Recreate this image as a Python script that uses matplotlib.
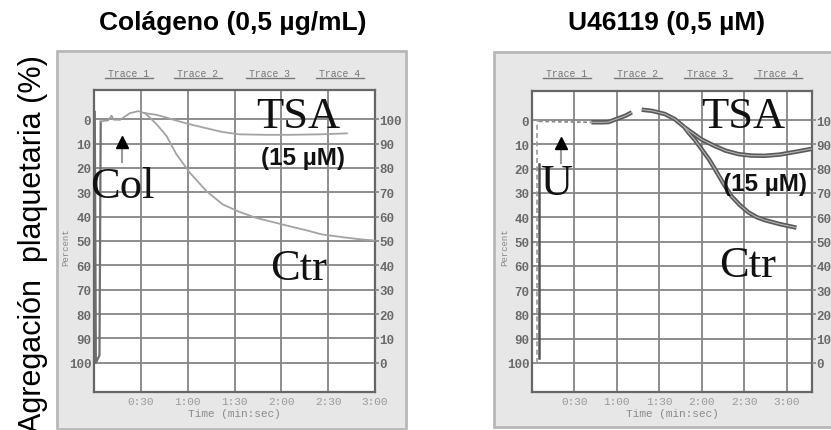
import matplotlib
matplotlib.use("Agg")
import matplotlib.pyplot as plt
from matplotlib.patches import Rectangle

W, H = 831, 431

# --- data (x: seconds, y: % on inverted scale) ---
col_spike_t = [0.5, 1.2, 3.5, 4.3]
col_spike_y = [-3, 100, 97, 1]
col_common_t = [4.3, 6, 9, 11.3, 12.5, 16.6, 20, 23, 28.3, 32.6]
col_common_y = [1, 0.7, 0.5, -1.5, 0.2, 0.3, -1.2, -2.5, -3.3, -2.5]
col_tsa_t = [32.6, 40, 46.4, 54, 61, 70, 82, 93, 110, 125, 145, 162]
col_tsa_y = [-2.5, -1.8, -0.7, 0.8, 2, 3.4, 5.2, 6.2, 6.4, 6.4, 6.2, 5.8]
col_ctr_t = [32.6, 35.7, 40, 46.4, 52.8, 61.3, 72, 82.5, 93, 103.8, 115, 125,
             136, 146, 160, 172, 180]
col_ctr_y = [-2.5, -0.7, 2, 6.8, 14.4, 21.9, 29.5, 35, 38, 40.5, 42.3, 43.9,
             45.6, 47.3, 48.5, 49.4, 49.8]

u_dash_t = [3.5, 3.5, 5]
u_dash_y = [100, 0.5, 0.5]
u_solid_t = [5, 5]
u_solid_y = [18, 98]
u_dot_t = [5, 15, 30, 42]
u_dot_y = [0.5, 0.6, 0.8, 0.9]
u_base_t = [42, 50, 54, 60, 66, 70.6]
u_base_y = [0.9, 0.9, 0.8, -0.5, -1.8, -3.2]
u_common_t = [77.6, 85, 94, 101, 108]
u_common_y = [-4.3, -3.8, -2.5, -0.4, 3]
u_tsa_t = [108, 113, 120, 129, 137, 146, 155, 164.5, 175, 188, 199]
u_tsa_y = [3, 5.1, 8, 10.6, 12.6, 14, 14.6, 14.7, 14.2, 12.9, 11.7]
u_ctr_t = [108, 110.6, 115, 120, 125, 129.4, 135, 141, 147, 153, 159, 164.7,
           175, 187]
u_ctr_y = [3, 5.1, 8, 12, 16, 20.2, 25.8, 31.3, 35, 38, 40, 41.2, 42.8, 44.3]

pct_ticks = list(range(0, 101, 10))
left_labels = [str(v) for v in pct_ticks]
right_labels = [str(100 - v) for v in pct_ticks]
time_ticks = [30, 60, 90, 120, 150, 180]
time_labels = ["0:30", "1:00", "1:30", "2:00", "2:30", "3:00"]
trace_names = ["Trace 1", "Trace 2", "Trace 3", "Trace 4"]

fig = plt.figure(figsize=(W / 100, H / 100), dpi=100)
fig.patch.set_facecolor("white")


def fx(px):
    return px / W


def fy(py):
    return 1 - py / H


def make_panel(box, area, xmax, trace_x, pct_x):
    bx0, by0, bx1, by1 = box
    fig.add_artist(Rectangle((fx(bx0), fy(by1)), fx(bx1 - bx0), (by1 - by0) / H,
                             transform=fig.transFigure, fc="#e7e7e7",
                             ec="#b8b8b8", lw=2, zorder=0))
    x0, y0, x1, y1 = area
    ax = fig.add_axes([fx(x0), fy(y1), fx(x1 - x0), (y1 - y0) / H])
    ax.set_facecolor("white")
    ax.set_xlim(0, xmax)
    ax.set_ylim(112, -12)
    for v in pct_ticks:
        ax.axhline(v, color="#858585", lw=1.3, zorder=1)
    for v in time_ticks:
        if v < xmax:
            ax.axvline(v, color="#858585", lw=1.3, zorder=1)
    for s in ax.spines.values():
        s.set_color("#666666")
        s.set_linewidth(1.6)
    ax.set_yticks(pct_ticks)
    ax.set_yticklabels(left_labels, family="Liberation Mono", weight="bold",
                       fontsize=9, color="#6a6a6a")
    ax.set_xticks(time_ticks)
    ax.set_xticklabels(time_labels, family="Liberation Mono", fontsize=8,
                       color="#9a9a9a")
    ax.tick_params(length=0, pad=2)
    ax.tick_params(axis="x", pad=3)
    ax2 = ax.twinx()
    ax2.set_ylim(112, -12)
    ax2.set_yticks(pct_ticks)
    ax2.set_yticklabels(right_labels, family="Liberation Mono", weight="bold",
                        fontsize=9, color="#6a6a6a")
    ax2.tick_params(length=3, pad=0, color="#858585", width=1.2)
    for s in ax2.spines.values():
        s.set_visible(False)
    ax.set_xlabel("Time (min:sec)", family="Liberation Mono", fontsize=8,
                  color="#8a8a8a", labelpad=1)
    fig.text(fx(pct_x), fy((y0 + y1) / 2 + 5), "Percent", rotation=90,
             family="Liberation Mono", fontsize=6.5, color="#8a8a8a",
             ha="center", va="center")
    for name, cx in zip(trace_names, trace_x):
        fig.text(fx(cx), fy(77), name, family="Liberation Mono", fontsize=7,
                 color="#777777", ha="center", va="baseline")
        fig.add_artist(plt.Line2D([fx(cx - 24), fx(cx + 24)], [fy(79), fy(79)],
                                  transform=fig.transFigure, color="#777777",
                                  lw=1))
    return ax


axL = make_panel((57, 52, 406, 430), (94, 91, 375, 393), 180,
                 [129, 198, 270, 340], 66)
axR = make_panel((494, 53, 845, 428), (532, 92, 812, 393), 198,
                 [567, 638, 708, 778], 505)

# left panel traces
axL.plot(col_spike_t, col_spike_y, color="#6e6e6e", lw=1.6, zorder=3)
axL.plot(col_common_t, col_common_y, color="#9c9c9c", lw=1.2, zorder=3)
axL.plot(col_tsa_t, col_tsa_y, color="#a3a3a3", lw=1.3, zorder=3)
axL.plot(col_ctr_t, col_ctr_y, color="#a3a3a3", lw=1.3, zorder=3)

# right panel traces
axR.plot(u_dash_t, u_dash_y, color="#9a9a9a", lw=1.2, ls=(0, (3, 2)), zorder=3)
axR.plot(u_solid_t, u_solid_y, color="#555555", lw=1.8, zorder=3)
axR.plot(u_dot_t, u_dot_y, color="#8a8a8a", lw=1.3, ls=(0, (2, 1.5)), zorder=3)
for tt, yy in [(u_base_t, u_base_y), (u_common_t, u_common_y),
               (u_tsa_t, u_tsa_y), (u_ctr_t, u_ctr_y)]:
    axR.plot(tt, yy, color="#5a5a5a", lw=3.2, zorder=3,
             solid_capstyle="butt")
    axR.plot(tt, yy, color="#b5b5b5", lw=0.8, zorder=4)

# arrows
for ax, t in [(axL, 17.9), (axR, 20.5)]:
    ax.plot([t, t], [11.5, 17.7], color="#9a9a9a", lw=1.5, zorder=5)
    ax.plot([t], [9.4], marker="^", color="black", ms=9, zorder=6)

serif = dict(family="Liberation Serif", fontsize=32, color="#111111")
bold = dict(family="Liberation Sans", weight="bold", fontsize=17.5,
            color="#111111")

fig.text(fx(298), fy(128), "TSA", ha="center", va="baseline", **serif)
fig.text(fx(303), fy(165), "(15 µM)", ha="center", va="baseline", **bold)
fig.text(fx(90), fy(198), "Col", ha="left", va="baseline", **serif)
fig.text(fx(299), fy(280), "Ctr", ha="center", va="baseline", **serif)

fig.text(fx(743), fy(128), "TSA", ha="center", va="baseline", **serif)
fig.text(fx(765), fy(191), "(15 µM)", ha="center", va="baseline", **bold)
fig.text(fx(556), fy(195), "U", ha="center", va="baseline", **serif)
fig.text(fx(748), fy(277), "Ctr", ha="center", va="baseline", **serif)

title = dict(family="Liberation Sans", weight="bold", fontsize=19,
             color="black", ha="center", va="baseline")
fig.text(fx(233), fy(30), "Colágeno (0,5 µg/mL)", **title)
fig.text(fx(667), fy(30), "U46119 (0,5 µM)", **title)

fig.text(fx(33), fy(55), "Agregación  plaquetaria (%)", rotation=90,
         family="Liberation Sans", fontsize=22, color="black",
         ha="center", va="top")

fig.savefig("out.png", dpi=100)
